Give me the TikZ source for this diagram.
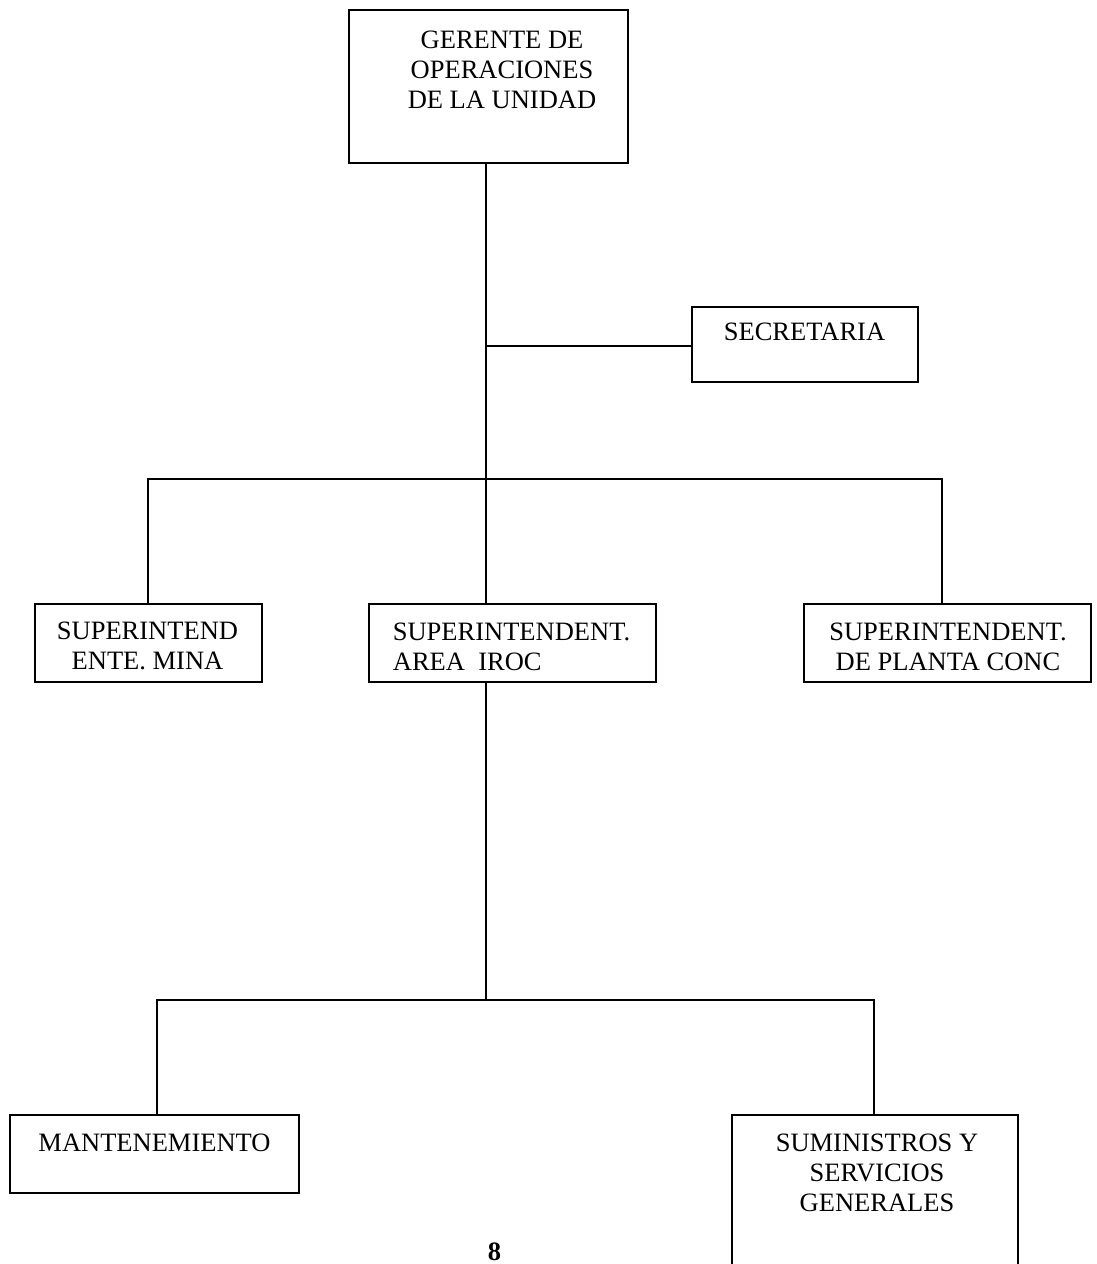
\documentclass[tikz,border=0pt]{standalone}
\usepackage{fontspec}
\setmainfont{Liberation Serif}
\begin{document}
\begin{tikzpicture}[x=1pt,y=-1pt,
  box/.style={draw, line width=1.8pt, rectangle, inner sep=0pt},
  lbl/.style={inner sep=0pt, align=center, font=\fontsize{26.5}{30}\selectfont},
  conn/.style={line width=1.8pt}]
\clip (0,0) rectangle (1096,1264);
\fill[white] (0,0) rectangle (1096,1264);
% boxes
\node[box, minimum width=279pt, minimum height=153pt] (top) at (488.5,86.5) {};
\node[box, minimum width=226pt, minimum height=75pt] (sec) at (805,344.5) {};
\node[box, minimum width=227pt, minimum height=78pt] (mina) at (148.5,643) {};
\node[box, minimum width=287pt, minimum height=78pt] (iroc) at (512.5,643) {};
\node[box, minimum width=287pt, minimum height=78pt] (planta) at (947.5,643) {};
\node[box, minimum width=289pt, minimum height=78pt] (mant) at (154.5,1154) {};
\node[box, minimum width=286pt, minimum height=220pt] (sum) at (875,1225) {};
% texts
\node[lbl] (ttop) at (502,69.5) {GERENTE DE\\OPERACIONES\\DE LA UNIDAD};
\node[lbl] (tsec) at (804.5,331.5) {SECRETARIA};
\node[lbl] (tmina) at (147.5,646) {SUPERINTEND\\ENTE. MINA};
\node[lbl, align=left] (tiroc) at (511.5,647) {SUPERINTENDENT.\\AREA\ \ IROC};
\node[lbl] (tplanta) at (948,647) {SUPERINTENDENT.\\DE PLANTA CONC};
\node[lbl] (tmant) at (154.5,1143) {MANTENEMIENTO};
\node[lbl] (tsum) at (877,1173) {SUMINISTROS Y\\SERVICIOS\\GENERALES};
\node[inner sep=0pt, font=\fontsize{26.5}{30}\selectfont\bfseries] (page) at (494.5,1252) {8};
% junctions
\coordinate (j1) at (486,346);
\coordinate (j2) at (486,479);
\coordinate (bl) at (148,479);
\coordinate (br) at (942,479);
\coordinate (j3) at (486,1000);
\coordinate (cl) at (157,1000);
\coordinate (cr) at (874,1000);
% connectors
\draw[conn] (top.south -| j1) -- (j1) -- (j2) -- (iroc.north -| j2);
\draw[conn] (j1) -- (sec.west |- j1);
\draw[conn] (mina.north -| bl) -- (bl) -- (br) -- (planta.north -| br);
\draw[conn] (iroc.south -| j3) -- (j3);
\draw[conn] (mant.north -| cl) -- (cl) -- (cr) -- (sum.north -| cr);
\end{tikzpicture}
\end{document}
